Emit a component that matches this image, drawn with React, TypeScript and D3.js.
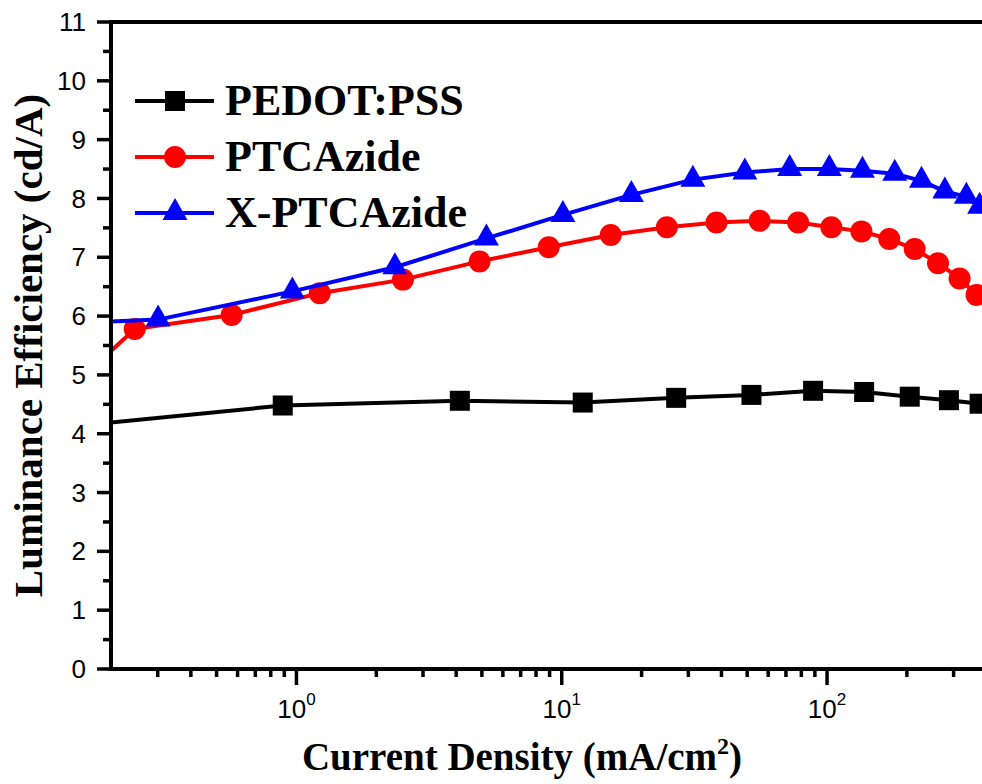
import React from 'react';
import * as d3 from 'd3';

// ---- data ----
const seriesNames = ['PEDOT:PSS', 'PTCAzide', 'X-PTCAzide'];
const seriesColors = ['#000000', '#ff0000', '#0000ff'];

const pedotX = [0.12, 0.888, 4.13, 12.0, 27.0, 51.9, 88.6, 138, 205, 288, 376];
const pedotY = [4.09, 4.48, 4.56, 4.53, 4.61, 4.66, 4.73, 4.71, 4.63, 4.57, 4.51];

const ptcX = [0.17, 0.2457, 0.57, 1.224, 2.52, 4.9, 8.93, 15.3, 24.9, 38.3, 55.7, 77.8, 103.8, 134.8, 171.6, 214, 262, 316, 366];
const ptcY = [5.11, 5.78, 6.02, 6.39, 6.62, 6.93, 7.17, 7.38, 7.51, 7.59, 7.62, 7.59, 7.51, 7.44, 7.31, 7.14, 6.9, 6.64, 6.36];

const xptcX = [0.16, 0.301, 0.965, 2.35, 5.2, 10.1, 18.3, 31.2, 49.0, 72.3, 102, 136, 180, 227, 278, 335, 376];
const xptcY = [5.89, 5.94, 6.42, 6.83, 7.32, 7.72, 8.06, 8.32, 8.44, 8.5, 8.5, 8.47, 8.42, 8.3, 8.12, 8.03, 7.86];

const yTicks = [0, 1, 2, 3, 4, 5, 6, 7, 8, 9, 10, 11];
const xMajorTicks = [1, 10, 100];
const xMajorExp = ['0', '1', '2'];

const serif = '"Liberation Serif", "Times New Roman", serif';
const sans = '"Liberation Sans", Arial, sans-serif';

function Marker({ kind, cx, cy, color }: { kind: number; cx: number; cy: number; color: string }) {
  if (kind === 0) return <rect x={cx - 10} y={cy - 10} width={20} height={20} fill={color} />;
  if (kind === 1) return <circle cx={cx} cy={cy} r={11} fill={color} />;
  const p = `M${cx},${cy - 15} L${cx + 12.5},${cy + 7} L${cx - 12.5},${cy + 7} Z`;
  return <path d={p} fill={color} />;
}

export default function App() {
  const W = 982, H = 784;
  const left = 111, top = 22, bottom = 669;
  const decade = 265.3;
  const x = d3.scaleLog().domain([0.2, 1000]).range([left, left + decade * Math.log10(1000 / 0.2)]);
  const y = d3.scaleLinear().domain([0, 11]).range([bottom, top]);
  const right = x(1000);

  const series = [
    { xs: pedotX, ys: pedotY },
    { xs: ptcX, ys: ptcY },
    { xs: xptcX, ys: xptcY },
  ];
  const line = d3.line<[number, number]>().x(d => x(d[0])).y(d => y(d[1]));

  const yMinor = d3.range(0.5, 11, 1);
  const xMinor: number[] = [];
  [0.1, 1, 10, 100].forEach(dec => {
    for (let k = 2; k <= 9; k++) {
      const v = dec * k;
      if (v > 0.2 && v < 1000) xMinor.push(v);
    }
  });

  const legendY = [101, 157, 213];

  return (
    <svg width={W} height={H} style={{ position: 'absolute', left: 0, top: 0, background: '#fff' }}>
      <defs>
        <clipPath id="plotclip">
          <rect x={left} y={top - 15} width={right - left + 40} height={bottom - top + 15} />
        </clipPath>
      </defs>
      <rect x={0} y={0} width={W} height={H} fill="#fff" />

      {/* data */}
      <g clipPath="url(#plotclip)">
        {series.map((s, i) => {
          const pts: [number, number][] = s.xs.map((v, j) => [v, s.ys[j]]);
          return (
            <g key={i}>
              <path d={line(pts) || ''} fill="none" stroke={seriesColors[i]} strokeWidth={4} strokeLinejoin="round" />
              {pts.map((p, j) => (
                <Marker key={j} kind={i} cx={x(p[0])} cy={y(p[1])} color={seriesColors[i]} />
              ))}
            </g>
          );
        })}
      </g>

      {/* axes frame */}
      <line x1={left} x2={right} y1={top} y2={top} stroke="#000" strokeWidth={4} />
      <line x1={left} x2={right} y1={bottom} y2={bottom} stroke="#000" strokeWidth={4} />
      <line x1={left} x2={left} y1={top - 2} y2={bottom + 2} stroke="#000" strokeWidth={4} />

      {/* y ticks */}
      {yTicks.map(t => (
        <g key={'y' + t}>
          <line x1={left - 14} x2={left} y1={y(t)} y2={y(t)} stroke="#000" strokeWidth={3.5} />
          <text x={86} y={y(t)} dy="0.35em" textAnchor="end" fontFamily={sans} fontSize={26} fill="#000">{t}</text>
        </g>
      ))}
      {yMinor.map(t => (
        <line key={'ym' + t} x1={left - 8} x2={left} y1={y(t)} y2={y(t)} stroke="#000" strokeWidth={3.5} />
      ))}

      {/* x ticks */}
      {xMajorTicks.map((t, i) => (
        <g key={'x' + t}>
          <line x1={x(t)} x2={x(t)} y1={bottom} y2={bottom + 16} stroke="#000" strokeWidth={3.5} />
          <text x={x(t)} y={718} textAnchor="middle" fontFamily={sans} fontSize={26} fill="#000">
            <tspan>10</tspan>
            <tspan dy={-13} fontSize={17}>{xMajorExp[i]}</tspan>
          </text>
        </g>
      ))}
      {xMinor.map(t => (
        <line key={'xm' + t} x1={x(t)} x2={x(t)} y1={bottom} y2={bottom + 8} stroke="#000" strokeWidth={3.5} />
      ))}

      {/* axis titles */}
      <text x={522} y={770} textAnchor="middle" fontFamily={serif} fontWeight="bold" fontSize={39} fill="#000">
        <tspan>Current Density (mA/cm</tspan>
        <tspan dy={-16} fontSize={24}>2</tspan>
        <tspan dy={16}>)</tspan>
      </text>
      <text transform={`translate(42, ${(top + bottom) / 2}) rotate(-90)`} textAnchor="middle" fontFamily={serif} fontWeight="bold" fontSize={41} fill="#000">
        Luminance Efficiency (cd/A)
      </text>

      {/* legend */}
      {seriesNames.map((name, i) => (
        <g key={name}>
          <line x1={135} x2={214} y1={legendY[i]} y2={legendY[i]} stroke={seriesColors[i]} strokeWidth={4} />
          <Marker kind={i} cx={175} cy={legendY[i]} color={seriesColors[i]} />
          <text x={225} y={legendY[i] + 14} fontFamily={serif} fontWeight="bold" fontSize={44} fill="#000">{name}</text>
        </g>
      ))}
    </svg>
  );
}
